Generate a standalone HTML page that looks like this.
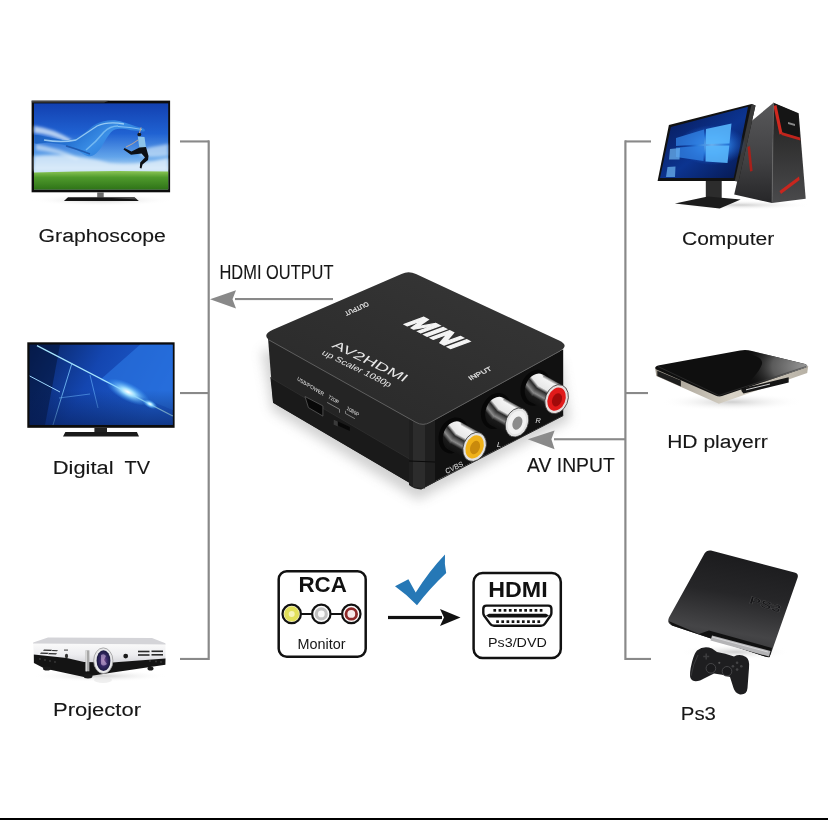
<!DOCTYPE html>
<html><head><meta charset="utf-8">
<style>
html,body{margin:0;padding:0;background:#fff;width:828px;height:820px;overflow:hidden}
svg{display:block;position:absolute;left:0;top:0;will-change:transform}
text{font-family:"Liberation Sans",sans-serif}
</style></head>
<body>
<svg width="828" height="820" viewBox="0 0 828 820">
<defs>
</defs>
<rect x="0" y="0" width="828" height="820" fill="#fff"/>
<rect x="0" y="818" width="828" height="2" fill="#000"/>

<!-- connector lines -->
<g fill="#898989">
  <rect x="180" y="140.4" width="29" height="2.1"/>
  <rect x="207.6" y="140.4" width="2.2" height="519.6"/>
  <rect x="180" y="392" width="29" height="2.1"/>
  <rect x="180" y="657.9" width="29" height="2.1"/>
  <rect x="235" y="298" width="98" height="2.1"/>
  <rect x="625" y="140.4" width="26" height="2.1"/>
  <rect x="624.3" y="140.4" width="2.2" height="519.6"/>
  <rect x="625" y="392" width="23" height="2.1"/>
  <rect x="625" y="657.9" width="26" height="2.1"/>
  <rect x="554" y="438.2" width="71" height="2.1"/>
  <path d="M210 299.2 L236 290.2 L232.5 299.2 L236 308.6 Z"/>
  <path d="M527.8 439.3 L554.6 430.4 L551.4 439.3 L554.6 449.2 Z"/>
</g>

<!-- labels -->
<g fill="#161616" stroke="#161616" stroke-width="0.12" font-size="19.2">
  <text x="38.6" y="242" textLength="127.3" lengthAdjust="spacingAndGlyphs">Graphoscope</text>
  <text x="52.8" y="473.6" textLength="60.7" lengthAdjust="spacingAndGlyphs">Digital</text>
  <text x="124.6" y="473.6" textLength="25.5" lengthAdjust="spacingAndGlyphs">TV</text>
  <text x="53" y="716.1" textLength="88" lengthAdjust="spacingAndGlyphs">Projector</text>
  <text x="682" y="244.9" textLength="92.3" lengthAdjust="spacingAndGlyphs">Computer</text>
  <text x="667.2" y="447.9" textLength="100.5" lengthAdjust="spacingAndGlyphs">HD playerr</text>
  <text x="680.8" y="720.1" textLength="35.2" lengthAdjust="spacingAndGlyphs">Ps3</text>
  <text x="219.5" y="278.8" font-size="19.4" textLength="114" lengthAdjust="spacingAndGlyphs">HDMI OUTPUT</text>
  <text x="527" y="472.4" font-size="19.5" textLength="87.8" lengthAdjust="spacingAndGlyphs">AV INPUT</text>
</g>


<!-- ===== TV1 Graphoscope ===== -->
<defs>
  <linearGradient id="sky1" x1="0" y1="0" x2="0" y2="1">
    <stop offset="0" stop-color="#1240b0"/>
    <stop offset="0.35" stop-color="#2062d2"/>
    <stop offset="0.62" stop-color="#62a4ea"/>
    <stop offset="0.8" stop-color="#c8e2f6"/>
    <stop offset="1" stop-color="#d4eaf8"/>
  </linearGradient>
  <linearGradient id="grass1" x1="0" y1="0" x2="0" y2="1">
    <stop offset="0" stop-color="#8cc656"/>
    <stop offset="0.35" stop-color="#4f9a2c"/>
    <stop offset="1" stop-color="#2f7418"/>
  </linearGradient>
  <radialGradient id="shadow1" cx="0.5" cy="0.5" r="0.5">
    <stop offset="0" stop-color="#cfcfcf"/>
    <stop offset="1" stop-color="#ffffff" stop-opacity="0"/>
  </radialGradient>
  <linearGradient id="scr2" x1="0" y1="0" x2="1" y2="0.3">
    <stop offset="0" stop-color="#07205a"/>
    <stop offset="0.5" stop-color="#1446b0"/>
    <stop offset="1" stop-color="#1e5ed0"/>
  </linearGradient>
  <radialGradient id="glow2" cx="0.5" cy="0.5" r="0.5">
    <stop offset="0" stop-color="#ffffff"/>
    <stop offset="0.3" stop-color="#9fe0ff"/>
    <stop offset="1" stop-color="#3aa0ff" stop-opacity="0"/>
  </radialGradient>
  <linearGradient id="scr3" x1="0" y1="0" x2="1" y2="1">
    <stop offset="0" stop-color="#061650"/>
    <stop offset="0.55" stop-color="#0c3490"/>
    <stop offset="1" stop-color="#06164a"/>
  </linearGradient>
  <radialGradient id="win3" cx="0.5" cy="0.5" r="0.5">
    <stop offset="0" stop-color="#7cc8ff"/>
    <stop offset="0.45" stop-color="#2f86e8"/>
    <stop offset="1" stop-color="#1a5ad0" stop-opacity="0"/>
  </radialGradient>
  <linearGradient id="tower" x1="0" y1="0" x2="1" y2="0">
    <stop offset="0" stop-color="#2e2e30"/>
    <stop offset="1" stop-color="#4a4a4c"/>
  </linearGradient>
  <linearGradient id="hdtop" x1="0" y1="0" x2="1" y2="0">
    <stop offset="0" stop-color="#0c0c0c"/>
    <stop offset="0.6" stop-color="#1a1a1a"/>
    <stop offset="0.8" stop-color="#4a4a4a"/>
    <stop offset="1" stop-color="#7a7a7a"/>
  </linearGradient>
  <linearGradient id="silver" x1="0" y1="0" x2="1" y2="0">
    <stop offset="0" stop-color="#9b958a"/>
    <stop offset="0.5" stop-color="#d8d2c6"/>
    <stop offset="1" stop-color="#b7b1a5"/>
  </linearGradient>
  <linearGradient id="ps3" x1="0" y1="0" x2="0" y2="1">
    <stop offset="0" stop-color="#202022"/>
    <stop offset="0.6" stop-color="#3c3c3e"/>
    <stop offset="1" stop-color="#2a2a2c"/>
  </linearGradient>
  <linearGradient id="projtop" x1="0" y1="0" x2="0" y2="1">
    <stop offset="0" stop-color="#e2e2e6"/>
    <stop offset="1" stop-color="#f8f8fa"/>
  </linearGradient>
  <radialGradient id="lens" cx="0.45" cy="0.45" r="0.55">
    <stop offset="0" stop-color="#c8c8e8"/>
    <stop offset="0.35" stop-color="#3a3a7a"/>
    <stop offset="1" stop-color="#15153a"/>
  </radialGradient>
  <linearGradient id="chrome" x1="0" y1="0" x2="0" y2="1">
    <stop offset="0" stop-color="#3a3a3a"/>
    <stop offset="0.3" stop-color="#f4f4f4"/>
    <stop offset="0.55" stop-color="#bdbdbd"/>
    <stop offset="0.8" stop-color="#2a2a2a"/>
    <stop offset="1" stop-color="#777"/>
  </linearGradient>
  <linearGradient id="boxtop" x1="0.2" y1="0.8" x2="0.8" y2="0.1">
    <stop offset="0" stop-color="#2b2b2b"/>
    <stop offset="1" stop-color="#353535"/>
  </linearGradient>
</defs>

<ellipse cx="102" cy="200" rx="72" ry="6" fill="url(#shadow1)"/>
<rect x="31.6" y="100.6" width="138.5" height="91.7" fill="#0d0d0d"/>
<rect x="34" y="103.4" width="134.2" height="86" fill="url(#sky1)"/>
<defs><filter id="blur2" x="-30%" y="-30%" width="160%" height="160%"><feGaussianBlur stdDeviation="1.4"/></filter>
<filter id="blur1" x="-30%" y="-30%" width="160%" height="160%"><feGaussianBlur stdDeviation="0.7"/></filter></defs>
<g filter="url(#blur2)">
<path d="M34 126 Q52 128 72 140 L70 143 Q50 134 34 133 Z" fill="#e8f4fc" opacity="0.75"/>
<path d="M36 144 Q58 148 80 158 L76 160 Q56 152 36 150 Z" fill="#e8f4fc" opacity="0.6"/>
<path d="M34 156 Q70 152 110 163 Q135 166 168 158 L168 171 L34 171 Z" fill="#e6f2fb" opacity="0.75"/>
<path d="M140 150 Q155 146 168 144 L168 156 Q150 158 140 156 Z" fill="#e0f0fc" opacity="0.6"/>
</g>
<defs>
  <linearGradient id="cloth" x1="0" y1="0" x2="1" y2="0.4">
    <stop offset="0" stop-color="#1a58b8"/>
    <stop offset="0.45" stop-color="#2470d0"/>
    <stop offset="0.7" stop-color="#3a8ee6"/>
    <stop offset="1" stop-color="#2a7ad8"/>
  </linearGradient>
</defs>
<path d="M34.4 135.2 C36.5 134.2 42.8 136.3 47.5 137.1 C52.1 137.9 58.1 139.6 62.4 139.9 C66.8 140.2 69.9 140.2 73.7 139.0 C77.4 137.7 81.5 134.8 84.9 132.4 C88.3 130.1 91.1 126.8 94.3 125.0 C97.4 123.1 100.2 122.0 103.6 121.2 C107.1 120.4 111.1 120.0 114.9 120.3 C118.6 120.6 122.3 122.0 126.1 123.1 C129.8 124.2 134.4 125.9 137.3 126.8 C140.3 127.8 142.8 127.9 143.9 128.7 C145.0 129.5 145.6 131.2 143.9 131.5 C142.2 131.8 137.2 131.0 133.6 130.6 C130.0 130.1 125.8 128.7 122.3 128.7 C118.9 128.7 115.8 128.7 113.0 130.6 C110.2 132.4 107.7 136.8 105.5 139.9 C103.3 143.0 102.1 146.6 99.9 149.3 C97.7 151.9 94.9 154.9 92.4 155.8 C89.9 156.8 87.7 156.0 84.9 154.9 C82.1 153.8 79.3 151.0 75.5 149.3 C71.8 147.6 67.1 145.7 62.4 144.6 C57.8 143.5 52.1 143.0 47.5 142.7 C42.8 142.5 36.5 144.5 34.4 143.3 Z" fill="url(#cloth)"/>
<g filter="url(#blur1)">
<path d="M44 140 Q62 143 76 140 Q88 132 97 126 Q108 121 124 124" stroke="#b0dcfa" stroke-width="1.3" fill="none" opacity="0.8"/>
<path d="M86 150 Q96 142 104 132 Q110 126 118 126" stroke="#8ccaf6" stroke-width="1.6" fill="none" opacity="0.7"/>
<path d="M66 146 Q80 150 90 154" stroke="#0e3c90" stroke-width="1.4" fill="none" opacity="0.6"/>
<path d="M118 126.5 Q130 127 142 129.5" stroke="#9ad0f8" stroke-width="1" fill="none" opacity="0.8"/>
</g>
<path d="M34 172.5 Q100 170 168.2 171.5 L168.2 189.4 L34 189.4 Z" fill="url(#grass1)"/>
<circle cx="139.3" cy="134.4" r="1.9" fill="#151a20"/>
<path d="M139.5 133 L141 127.5" stroke="#c8a890" stroke-width="1" fill="none"/>
<path d="M137.8 136.5 L144.5 137 L146 147.5 L139.5 149.5 Z" fill="#8cc4ea"/>
<path d="M138 140 L132 144 L126 147" stroke="#c8a890" stroke-width="0.9" fill="none"/>
<path d="M139.5 147.5 L146 147 L148.5 156 L148 160 L142.5 164.5 L141.5 168.5 L139.8 168 L140.2 162.5 L145 157.5 L141.5 153.5 L131 154.8 L123.5 149.6 L124.5 148 L131.5 151.5 Z" fill="#0c0f14"/>
<path d="M31.6 100.6 L110 100.6 L104 102.5 L31.6 102.5 Z" fill="#6a6a6a" opacity="0.6"/>
<rect x="97.2" y="192.3" width="6.5" height="5.2" fill="#6a6a6a"/>
<path d="M68 197.2 L134.5 197.2 L138.8 201 L63.9 201 Z" fill="#141414"/>
<path d="M103 197.5 L134.5 197.5 L137 199.5 Z" fill="#666" opacity="0.6"/>

<!-- ===== TV2 Digital TV ===== -->
<rect x="27.3" y="342.3" width="147.3" height="85.5" fill="#0c0c0c"/>
<rect x="29.7" y="344.7" width="143" height="80.2" fill="url(#scr2)"/>
<path d="M140 344.7 L172.7 344.7 L172.7 410 L100 380 Z" fill="#2a74e0" opacity="0.7"/>
<path d="M29.7 344.7 L60 344.7 L45 424.9 L29.7 424.9 Z" fill="#05173f" opacity="0.6"/>
<path d="M37 345.6 L172.7 416" stroke="#a8e8ff" stroke-width="1.2"/>
<path d="M72 363 L53 424.9" stroke="#7cc8ff" stroke-width="0.8"/>
<path d="M29.7 376 L60 392" stroke="#9fd8ff" stroke-width="1"/>
<path d="M59 398 L90 394 M90 375 L98 408" stroke="#6ab6ff" stroke-width="0.6"/>
<defs><linearGradient id="tv2dark" x1="0" y1="0" x2="0" y2="1"><stop offset="0" stop-color="#061a50" stop-opacity="0"/><stop offset="1" stop-color="#061a50" stop-opacity="0.55"/></linearGradient></defs>
<rect x="29.7" y="390" width="143" height="34.9" fill="url(#tv2dark)"/>
<ellipse cx="128" cy="392" rx="24" ry="9" fill="url(#glow2)" transform="rotate(27 128 392)"/>
<ellipse cx="150" cy="404" rx="8" ry="4" fill="url(#glow2)" transform="rotate(27 150 404)"/>
<rect x="94.4" y="427.8" width="12.6" height="5" fill="#222"/>
<path d="M65.4 432 L136.9 432 L139 436.4 L63 436.4 Z" fill="#1a1a1a"/>

<!-- ===== Projector ===== -->
<defs>
  <linearGradient id="projfront" x1="0" y1="0" x2="0" y2="1">
    <stop offset="0" stop-color="#fafafa"/>
    <stop offset="0.6" stop-color="#ededf0"/>
    <stop offset="1" stop-color="#d8d8dc"/>
  </linearGradient>
  <radialGradient id="lens2" cx="0.5" cy="0.5" r="0.5">
    <stop offset="0" stop-color="#8a5a9a"/>
    <stop offset="0.5" stop-color="#3a2a6a"/>
    <stop offset="1" stop-color="#1a1a40"/>
  </radialGradient>
</defs>
<ellipse cx="100" cy="676" rx="68" ry="6" fill="url(#shadow1)"/>
<path d="M33.2 642.5 L48 637.5 L152 638 L165.4 643.3 L165.4 645 L33.2 644 Z" fill="#d4d4d8"/>
<path d="M33.2 643.5 L165.4 644.5 L165.5 659.5 L112 662.5 L84 661.9 L33.8 654.6 Z" fill="url(#projfront)"/>
<path d="M33.8 654.6 L66.7 658 L84 661.9 L112 662.5 L165.5 658.5 L165.4 664.8 L112.7 672.5 L84 677 L44.5 668.6 L33.9 662.9 Z" fill="#141414"/>
<rect x="85.6" y="650.3" width="3.8" height="21" fill="#a8a8a8"/>
<rect x="85.6" y="650.3" width="1.4" height="21" fill="#d8d8d8"/>
<ellipse cx="103.3" cy="660.7" rx="9.6" ry="12.8" fill="#e8e8ea" stroke="#9a9a9a" stroke-width="0.8"/>
<ellipse cx="103.5" cy="660.7" rx="6.9" ry="10.4" fill="url(#lens2)"/>
<path d="M101 655 Q104 653 106 656 L104 660 L107 664 Q103 667 101 664 Z" fill="#c8b0d8" opacity="0.6"/>
<circle cx="125.7" cy="656.1" r="2.4" fill="#1a1a1a"/>
<g fill="#2a2a2a">
  <rect x="138" y="650.7" width="11.5" height="1.6"/><rect x="151.5" y="650.5" width="11.5" height="1.6"/>
  <rect x="138" y="654.2" width="11.5" height="1.6"/><rect x="151.5" y="654" width="11.5" height="1.6"/>
  <path d="M44 649.5 L52 649.8 L51 651 L43 650.7 Z M52.5 650 L58 650.2 L57 651.3 L51.5 651.1 Z M41 652.5 L48.5 652.8 L47.5 654 L40 653.7 Z M49 653 L57 653.3 L56 654.5 L48 654.2 Z"/>
</g>
<rect x="64" y="649.5" width="4" height="1.2" fill="#555"/>
<ellipse cx="66.5" cy="656" rx="1.6" ry="2.2" fill="#333"/>
<g fill="#3a3a3a">
  <circle cx="40" cy="659" r="0.9"/><circle cx="45" cy="660" r="0.9"/><circle cx="50" cy="661" r="0.9"/><circle cx="55" cy="662" r="0.9"/>
  <circle cx="150" cy="661" r="0.9"/><circle cx="156" cy="661.5" r="0.9"/><circle cx="161" cy="662" r="0.9"/>
</g>
<ellipse cx="47" cy="668.5" rx="4" ry="2" fill="#1a1a1a"/>
<ellipse cx="88" cy="676" rx="4.5" ry="2.5" fill="#1a1a1a"/>
<ellipse cx="150.5" cy="668.5" rx="3" ry="2" fill="#1a1a1a"/>
<ellipse cx="103" cy="680" rx="9" ry="3" fill="#e4e4e4" opacity="0.6"/>

<!-- ===== Computer ===== -->
<defs>
  <linearGradient id="towerL" x1="0" y1="0" x2="0" y2="1">
    <stop offset="0" stop-color="#58585a"/>
    <stop offset="0.6" stop-color="#404042"/>
    <stop offset="1" stop-color="#262628"/>
  </linearGradient>
  <linearGradient id="towerF" x1="0" y1="0" x2="0" y2="1">
    <stop offset="0" stop-color="#1a1a1a"/>
    <stop offset="0.35" stop-color="#2e2e2e"/>
    <stop offset="1" stop-color="#4a4a4c"/>
  </linearGradient>
</defs>
<ellipse cx="740" cy="205" rx="72" ry="5" fill="url(#shadow1)"/>
<path d="M751 121.6 L773.5 102.7 L772 203 L734.2 194.6 Z" fill="url(#towerL)"/>
<path d="M773.5 102.7 L798.7 113.2 L805.7 198.8 L772 203 Z" fill="url(#towerF)"/>
<path d="M774.5 103.5 L798 113.5 L800 138 L782 132 Z" fill="#151515"/>
<path d="M773.5 106 L776.5 105 L782.5 133.5 L779.5 134.5 Z" fill="#d0281f"/>
<path d="M781 132 L800 137.5 L800.3 140.5 L781.5 135 Z" fill="#c0241c"/>
<path d="M779.5 191 L799 176.5 L799.6 180 L781 194 Z" fill="#c8261e"/>
<path d="M747.5 147 L750 146 L752.6 171 L750 171.5 Z" fill="#a8201a"/>
<path d="M788 122 L795 124 L795 126 L788 124 Z" fill="#888"/>
<path d="M773.5 102.7 L772 203" stroke="#666" stroke-width="0.7"/>
<path d="M668.9 124.9 L751.6 104 L755.5 105.5 L738.5 181.5 L734.7 181 L657.6 181 Z" fill="#121212"/>
<path d="M751.6 104 L755.5 105.5 L738.5 181.5 L734.7 181 Z" fill="#3a3a3a"/>
<path d="M670.9 126.9 L748 106.8 L733.7 178 L660 178 Z" fill="url(#scr3)"/>
<ellipse cx="712" cy="145" rx="34" ry="20" fill="url(#win3)" opacity="0.85"/>
<path d="M676 138 L704 129.5 L704 144 L676 146 Z M676 147.5 L704 146 L703.5 161 L676 157 Z" fill="#2f7ee0" opacity="0.8"/>
<path d="M706 129 L731.5 123.5 L729.5 143.5 L706 144 Z M706 146 L729.3 145.5 L727.5 163 L705.5 161.5 Z" fill="#58b6fc" opacity="0.9"/>
<path d="M670 149 L680 148 L679.5 159.5 L669 159.5 Z M667.5 167 L675.5 166.5 L675 177 L666 177 Z" fill="#6ab0ec" opacity="0.75"/>
<rect x="705.8" y="181" width="15.9" height="17.6" fill="#2c2c2c"/>
<path d="M674.9 203.6 L707.8 196.6 L740.7 199.6 L719.7 208.6 Z" fill="#1c1c1c"/>

<!-- ===== HD player ===== -->
<defs>
  <radialGradient id="hdsheen" cx="1" cy="0.4" r="0.9">
    <stop offset="0" stop-color="#9a9a9a"/>
    <stop offset="0.55" stop-color="#5a5a5a"/>
    <stop offset="1" stop-color="#141414" stop-opacity="0"/>
  </radialGradient>
</defs>
<ellipse cx="732" cy="402" rx="72" ry="9" fill="url(#shadow1)"/>
<path d="M655 367 L656.3 376 L718.9 403.8 L807.2 373 L808.2 366 L718.9 396.5 Z" fill="url(#silver)"/>
<path d="M657.3 370.8 L680.9 380.5 L680.9 386.4 L657.3 376 Z" fill="#1e1e1e"/>
<path d="M741.5 388.6 L788.7 377.2 L788.7 382.4 L743.5 393.6 Q740.5 391 741.5 388.6 Z" fill="#151515"/>
<path d="M746 389.8 L770 384" stroke="#e8e8e8" stroke-width="0.9"/>
<path d="M658 365.5 L740 350.5 Q746 349.3 752 351 L805 364 Q809 365.5 806 367.5 L722 396 Q719 397 715.5 395.5 L656.5 369.5 Q653.5 367 658 365.5 Z" fill="#0f0f0f"/>
<path d="M736 351.2 Q746 349.3 752 351 L805 364 Q809 365.5 806 367.5 L738 390.5 Q758 376 762 364 Q764 355 736 351.2 Z" fill="url(#hdsheen)"/>
<path d="M658 366.5 L718.9 395.5 L806 366.5" stroke="#3a3a3a" stroke-width="0.6" fill="none"/>

<!-- ===== PS3 ===== -->
<defs>
  <linearGradient id="ps3b" x1="0.55" y1="0" x2="0.35" y2="1">
    <stop offset="0" stop-color="#1a1a1c"/>
    <stop offset="0.4" stop-color="#262628"/>
    <stop offset="0.75" stop-color="#454547"/>
    <stop offset="1" stop-color="#303032"/>
  </linearGradient>
</defs>
<ellipse cx="735" cy="652" rx="55" ry="8" fill="url(#shadow1)"/>
<path d="M711 550.5 Q706.8 549.8 704.5 553.5 L669 617.5 Q666.5 623.5 672 625.5 L765 656.5 Q769.5 658 771 653.5 L797.5 578 Q799 573.5 794.5 572.5 Z" fill="url(#ps3b)"/>
<path d="M672 625.5 L668.5 621 L699 634 L709 630.5 L772 648 L769.8 656.8 Q769 658 765 656.5 Z" fill="#111"/>
<path d="M712 635.5 L770.5 651 L769 656.5 L710.5 640.5 Z" fill="#b4b4b6"/>
<path d="M712 637 L768 652" stroke="#e0e0e2" stroke-width="0.8"/>
<text font-size="10.5" font-weight="bold" fill="#161618" stroke="#505052" stroke-width="0.35" transform="matrix(0.95 0.3 -0.3 0.95 748.5 603)" textLength="33" lengthAdjust="spacingAndGlyphs">PS3</text>
<path d="M697 650.5 Q704 645 712 648.5 L717 652 Q725 653 734 656.5 Q740 653.5 746 657 Q750 660 749 668 L747.5 688 Q747 695 740 694.5 Q735 693 733.5 688 L730 677 Q722 674 714 673.5 L700 680.5 Q693 683 690.5 678 Q689 674 692 662 Q694 654 697 650.5 Z" fill="#1e1e20"/>
<path d="M703.2 655.7 h6 v1.6 h-6 Z M705.4 653.5 h1.6 v6 h-1.6 Z" fill="#3c3c3e"/>
<circle cx="737.1" cy="662.8" r="1.3" fill="#444446"/><circle cx="741.3" cy="666.2" r="1.3" fill="#444446"/><circle cx="737.1" cy="669.6" r="1.3" fill="#444446"/><circle cx="732.9" cy="666.2" r="1.3" fill="#444446"/>
<circle cx="710.9" cy="668.3" r="4.8" fill="#1a1a1c" stroke="#4a4a4c" stroke-width="0.9"/>
<circle cx="727.0" cy="671.3" r="4.8" fill="#1a1a1c" stroke="#4a4a4c" stroke-width="0.9"/>
<circle cx="719.3" cy="662.8" r="1.1" fill="#555"/>
<path d="M691 676 Q693 664 698 655" stroke="#3a3a3c" stroke-width="1" fill="none"/>

<!-- ===== AV2HDMI box ===== -->
<defs>
  <linearGradient id="barrel" gradientUnits="userSpaceOnUse" x1="7.26" y1="-13.06" x2="-7.26" y2="13.06">
    <stop offset="0" stop-color="#555"/>
    <stop offset="0.1" stop-color="#f4f4f4"/>
    <stop offset="0.4" stop-color="#e8e8e8"/>
    <stop offset="0.5" stop-color="#2a2a2a"/>
    <stop offset="0.68" stop-color="#8a8a8a"/>
    <stop offset="0.8" stop-color="#1a1a1a"/>
    <stop offset="1" stop-color="#111"/>
  </linearGradient>
  <linearGradient id="lface" x1="0" y1="0" x2="1" y2="1">
    <stop offset="0" stop-color="#1a1a1a"/>
    <stop offset="1" stop-color="#0e0e0e"/>
  </linearGradient>
</defs>
<defs><filter id="blur6" x="-20%" y="-20%" width="140%" height="140%"><feGaussianBlur stdDeviation="6"/></filter></defs>
<path d="M262 350 L272 410 L418 500 L570 420 L560 360 Z" fill="#9a9a9a" opacity="0.45" filter="url(#blur6)"/>
<!-- left-front face -->
<path d="M268 338 L423 426.3 L420 489 L273.1 402.8 Z" fill="#242424"/>
<path d="M270.4 377.6 L413 461 L420 489 L273.1 402.8 Z" fill="#1a1a1a"/>
<path d="M270.4 377.6 L413 461" stroke="#2c2c2c" stroke-width="1"/>
<!-- right-front face -->
<path d="M423 426.3 L563.2 349.3 L563.2 415.6 L420 489 Z" fill="#111"/>
<path d="M409 417 Q421 428 435 419 L435 482 L421 489.5 Q414 489 409 485 Z" fill="#1f1f1f"/>
<path d="M413 420 Q418 425 425 424 L425 488.5 L413 487 Z" fill="#2c2c2c"/>
<path d="M409 461 L435 462" stroke="#0a0a0a" stroke-width="1"/>
<path d="M421 489 L563.2 415.6" stroke="#2a2a2a" stroke-width="1"/>
<!-- top face -->
<path d="M272.8 329.7 L401.5 273.9 Q408.8 270.7 416 274.1 L559.1 340.4 Q570 345.5 559.5 351.3 L430 422.4 Q423 426.3 416 422.4 L272.2 342.1 Q260 335.3 272.8 329.7 Z" fill="url(#boxtop)"/>
<path d="M269 340 L416 422.4 Q423 426.3 430 422.4 L560 351" stroke="#5e5e5e" stroke-width="1" fill="none"/>
<!-- top text -->
<g fill="#e8e8e8">
  <text transform="matrix(0.9 0.437 -0.66 0.75 331 346.7)" font-size="12.3" textLength="81.4" lengthAdjust="spacingAndGlyphs">AV2HDMI</text>
  <text transform="matrix(0.898 0.439 -0.66 0.75 321 354)" font-size="8.5" textLength="75.8" lengthAdjust="spacingAndGlyphs">up Scaler 1080p</text>
  <text transform="matrix(0.887 0.461 -1.0 0.37 402.7 323.5)" font-size="28" font-weight="bold" textLength="56" lengthAdjust="spacingAndGlyphs" fill="#f4f4f4" stroke="#f4f4f4" stroke-width="1.6">MINI</text>
  <text transform="matrix(-0.914 0.407 -0.55 -0.83 367 301.8)" font-size="6.5" textLength="25" lengthAdjust="spacingAndGlyphs" stroke="#e8e8e8" stroke-width="0.25">OUTPUT</text>
  <text transform="matrix(0.9 -0.437 0.66 0.75 470.5 380.5)" font-size="6.5" textLength="24.5" lengthAdjust="spacingAndGlyphs" stroke="#e8e8e8" stroke-width="0.2">INPUT</text>
  <text transform="matrix(0.853 0.522 -0.25 0.97 297 380)" font-size="5.2" textLength="31" lengthAdjust="spacingAndGlyphs">USB/POWER</text>
  <text transform="matrix(0.853 0.522 -0.25 0.97 328 398)" font-size="5.2" textLength="12" lengthAdjust="spacingAndGlyphs">720P</text>
  <text transform="matrix(0.853 0.522 -0.25 0.97 346.5 409.5)" font-size="5.2" textLength="14" lengthAdjust="spacingAndGlyphs">1080P</text>
  <text transform="matrix(0.9 -0.437 0.35 0.94 446.5 474)" font-size="7.2" textLength="19" lengthAdjust="spacingAndGlyphs">CVBS</text>
  <text transform="matrix(1 0 -0.25 1 496.5 446.5)" font-size="7.2">L</text>
  <text transform="matrix(1 0 -0.25 1 535 423)" font-size="7.2">R</text>
</g>
<path d="M305 396.5 L322.9 405.9 L322.9 416.1 L308.4 407.6 Z" fill="#080808" stroke="#5a5a5a" stroke-width="0.8"/>
<path d="M333.6 419.5 L349.8 427 L349.8 431 L333.6 423.5 Z" fill="#080808"/><path d="M333.6 419.5 L337.8 421.5 L337.8 426.4 L333.6 424.4 Z" fill="#3a3a3a"/>
<path d="M327.1 402.4 L339.5 409.3 L339.5 412.7 M345.5 413.5 L345.5 410.8 M345.5 413.5 L354.9 418.7" stroke="#bbb" stroke-width="0.6" fill="none"/>
<!-- jacks -->
<g transform="translate(474.6 446.9)">
  <ellipse cx="-21" cy="-11.5" rx="14.5" ry="18.5" transform="rotate(22 -21 -11.5)" fill="#070707"/>
  <ellipse cx="-20" cy="-11.1" rx="11.2" ry="15" transform="rotate(22 -20 -11.1)" fill="url(#barrel)"/>
  <path d="M-12.74 -24.16 L7.26 -13.06 L-7.26 13.06 L-27.26 1.96 Z" fill="url(#barrel)"/>
  <ellipse rx="11.2" ry="15" transform="rotate(22)" fill="#e2e2e2" stroke="#2a2a2a" stroke-width="0.7"/>
  <ellipse rx="8.7" ry="12" transform="rotate(22)" fill="#f0b21a"/>
  <ellipse cx="0.6" cy="0.4" rx="4.7" ry="6.9" transform="rotate(22)" fill="#c98a0c"/>
</g>
<g transform="translate(517 422.5)">
  <ellipse cx="-21" cy="-11.5" rx="14.5" ry="18.5" transform="rotate(22 -21 -11.5)" fill="#070707"/>
  <ellipse cx="-20" cy="-11.1" rx="11.2" ry="15" transform="rotate(22 -20 -11.1)" fill="url(#barrel)"/>
  <path d="M-12.74 -24.16 L7.26 -13.06 L-7.26 13.06 L-27.26 1.96 Z" fill="url(#barrel)"/>
  <ellipse rx="11.2" ry="15" transform="rotate(22)" fill="#e2e2e2" stroke="#2a2a2a" stroke-width="0.7"/>
  <ellipse rx="8.7" ry="12" transform="rotate(22)" fill="#f2f2f2"/>
  <ellipse cx="0.6" cy="0.4" rx="4.7" ry="6.9" transform="rotate(22)" fill="#8c8c8c"/>
</g>
<g transform="translate(556.6 399.2)">
  <ellipse cx="-21" cy="-11.5" rx="14.5" ry="18.5" transform="rotate(22 -21 -11.5)" fill="#070707"/>
  <ellipse cx="-20" cy="-11.1" rx="11.2" ry="15" transform="rotate(22 -20 -11.1)" fill="url(#barrel)"/>
  <path d="M-12.74 -24.16 L7.26 -13.06 L-7.26 13.06 L-27.26 1.96 Z" fill="url(#barrel)"/>
  <ellipse rx="11.2" ry="15" transform="rotate(22)" fill="#e6dede" stroke="#2a2a2a" stroke-width="0.7"/>
  <ellipse rx="8.7" ry="12" transform="rotate(22)" fill="#e01a1a"/>
  <ellipse cx="0.6" cy="0.4" rx="4.7" ry="6.9" transform="rotate(22)" fill="#a00a0a"/>
</g>

<!-- ===== RCA / HDMI icons ===== -->
<rect x="278.7" y="571.3" width="87" height="85.4" rx="8" fill="#fff" stroke="#111" stroke-width="2.5"/>
<text x="298.4" y="592" font-size="21.8" font-weight="bold" fill="#111" textLength="48.4" lengthAdjust="spacingAndGlyphs">RCA</text>
<rect x="298" y="613" width="46" height="2" fill="#111"/>
<g stroke="#111" stroke-width="2.2">
  <circle cx="291.7" cy="613.9" r="9.2" fill="#f4f2c8"/>
  <circle cx="321.3" cy="613.9" r="9.2" fill="#fbfbfb"/>
  <circle cx="351.3" cy="613.9" r="9.2" fill="#fbfbfb"/>
</g>
<circle cx="291.7" cy="613.9" r="5.2" fill="#f6f4b8" stroke="#e2e05a" stroke-width="4.4"/>
<circle cx="321.3" cy="613.9" r="5" fill="#fafafa" stroke="#c2c2c2" stroke-width="3.2"/>
<circle cx="351.3" cy="613.9" r="5.3" fill="#f6eaea" stroke="#8e2a2a" stroke-width="2.8"/>
<text x="297.6" y="649" font-size="14" fill="#151515" textLength="48" lengthAdjust="spacingAndGlyphs">Monitor</text>

<rect x="473.6" y="573" width="87.2" height="85" rx="9" fill="#fff" stroke="#111" stroke-width="2.5"/>
<text x="488.3" y="597" font-size="22.6" font-weight="bold" fill="#111" textLength="59.4" lengthAdjust="spacingAndGlyphs">HDMI</text>
<path d="M486.5 605.6 L548.2 605.6 Q551.4 605.6 551.4 608.8 L551.4 613 Q551.4 614.5 550.5 615.8 L545 623.6 Q543.5 625.8 541 625.8 L494 625.8 Q491.5 625.8 490 623.6 L484.2 615.8 Q483.3 614.5 483.3 613 L483.3 608.8 Q483.3 605.6 486.5 605.6 Z" fill="none" stroke="#111" stroke-width="2.4" stroke-linejoin="round"/>
<path d="M486 615.6 L489 613.8 L546 613.8 L549 615.6 L546 617.4 L489 617.4 Z" fill="#111"/>
<g fill="#111"><rect x="493.40" y="609" width="2.7" height="2.7"/><rect x="498.55" y="609" width="2.7" height="2.7"/><rect x="503.70" y="609" width="2.7" height="2.7"/><rect x="508.85" y="609" width="2.7" height="2.7"/><rect x="514.00" y="609" width="2.7" height="2.7"/><rect x="519.15" y="609" width="2.7" height="2.7"/><rect x="524.30" y="609" width="2.7" height="2.7"/><rect x="529.45" y="609" width="2.7" height="2.7"/><rect x="534.60" y="609" width="2.7" height="2.7"/><rect x="539.75" y="609" width="2.7" height="2.7"/><rect x="496.20" y="620.3" width="2.7" height="2.7"/><rect x="501.35" y="620.3" width="2.7" height="2.7"/><rect x="506.50" y="620.3" width="2.7" height="2.7"/><rect x="511.65" y="620.3" width="2.7" height="2.7"/><rect x="516.80" y="620.3" width="2.7" height="2.7"/><rect x="521.95" y="620.3" width="2.7" height="2.7"/><rect x="527.10" y="620.3" width="2.7" height="2.7"/><rect x="532.25" y="620.3" width="2.7" height="2.7"/><rect x="537.40" y="620.3" width="2.7" height="2.7"/></g>
<text x="488" y="647.3" font-size="13.6" fill="#151515" textLength="58.8" lengthAdjust="spacingAndGlyphs">Ps3/DVD</text>

<path d="M395 586.3 L408.4 579.3 Q412 586 415.7 592.6 Q429 571 445 554.4 Q444.2 564 446.2 572.9 Q429 589 417 605.2 Q406 594 395 586.3 Z" fill="#2678b6"/>
<rect x="388" y="615.9" width="54" height="3.2" fill="#111"/>
<path d="M460.5 617.5 L440 609 L444 617.5 L440 626 Z" fill="#111"/>

</svg>
</body></html>
